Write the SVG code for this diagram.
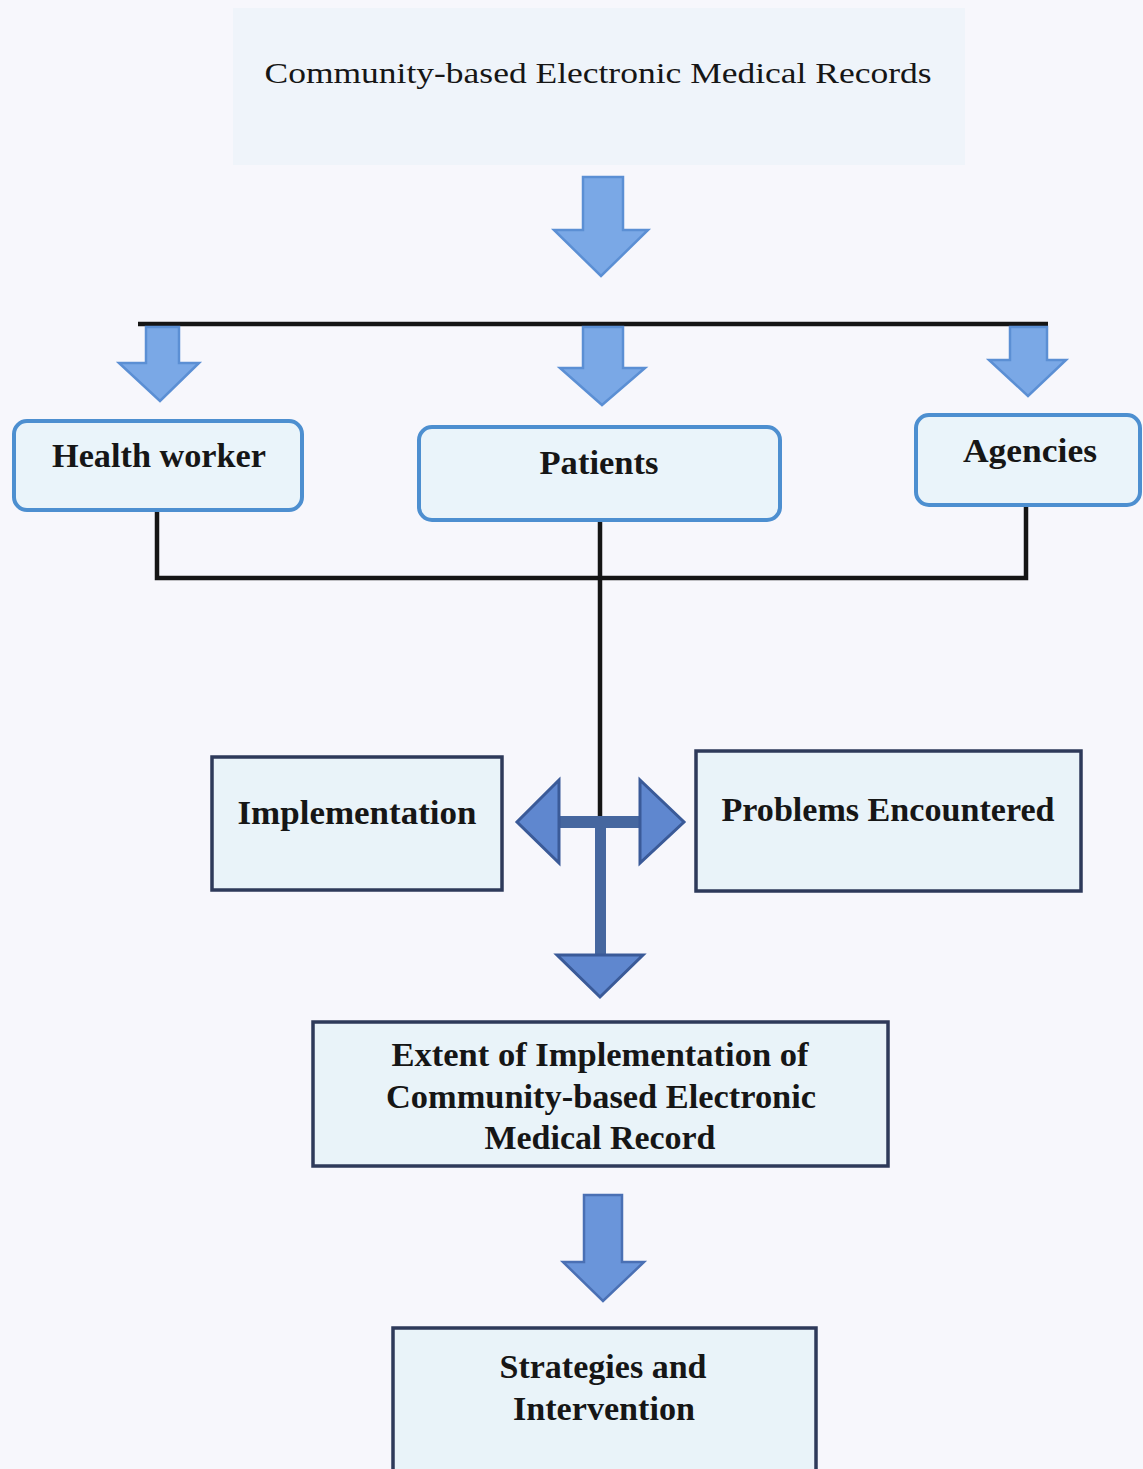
<svg xmlns="http://www.w3.org/2000/svg" width="1143" height="1469" viewBox="0 0 1143 1469">
  <defs>
    <style>
      .bg { fill: #f7f7fc; }
      .title-bg { fill: #eff4fa; }
      .rbox { fill: #eaf4fa; stroke: #4d8fd0; stroke-width: 4; }
      .sbox { fill: #e9f3f9; stroke: #2e3a5a; stroke-width: 3.5; }
      .lbl { font-family: "Liberation Serif", "DejaVu Serif", serif; font-weight: bold; font-size: 33px; fill: #161616; text-anchor: middle; }
      .ttl { font-family: "Liberation Serif", "DejaVu Serif", serif; font-size: 30px; fill: #161616; text-anchor: middle; }
      .line { stroke: #151515; stroke-width: 4.5; fill: none; }
      .arrow-light { fill: #7aa8e6; stroke: #5b8fd4; stroke-width: 2.5; stroke-linejoin: miter; }
      .arrow-mid { fill: #6a95da; stroke: #4a70b4; stroke-width: 2.5; }
      .arrow-dark { fill: #5f87cf; stroke: #3a5a98; stroke-width: 3; stroke-linejoin: miter; }
      .shaft-dark { fill: #46679f; }
    </style>
  </defs>

  <rect class="bg" x="0" y="0" width="1143" height="1469"/>

  <!-- Title -->
  <g id="title">
    <rect class="title-bg" x="233" y="8" width="732" height="157"/>
    <text class="ttl" x="598" y="83" textLength="667" lengthAdjust="spacingAndGlyphs">Community-based Electronic Medical Records</text>
  </g>

  <!-- Connectors -->
  <g id="connectors">
    <!-- title down arrow -->
    <path class="arrow-light" d="M583 177 H623 V230 H648 L601 276 L554 230 H583 Z"/>
    <!-- distribution bar -->
    <line class="line" x1="138" y1="324" x2="1048" y2="324"/>
    <!-- branch arrows -->
    <path class="arrow-light" d="M146 327 H179 V363 H199 L160 401 L119 363 H146 Z"/>
    <path class="arrow-light" d="M583 327 H623 V368 H645 L602 405 L560 368 H583 Z"/>
    <path class="arrow-light" d="M1010 327 H1047 V360 H1066 L1028 396 L989 360 H1010 Z"/>
    <!-- collecting lines -->
    <polyline class="line" points="157,510 157,578 1026,578 1026,506"/>
    <line class="line" x1="600" y1="520" x2="600" y2="818"/>
    <!-- split arrow -->
    <g>
      <rect class="shaft-dark" x="555" y="816" width="90" height="12"/>
      <rect class="shaft-dark" x="595" y="820" width="11" height="137"/>
      <path class="arrow-dark" d="M559 780 L517 822 L559 863 Z"/>
      <path class="arrow-dark" d="M640 780 L684 822 L640 863 Z"/>
      <path class="arrow-dark" d="M557 955 H643 L600 997 Z"/>
    </g>
    <!-- arrow to strategies -->
    <path class="arrow-mid" d="M584 1195 H622 V1262 H644 L603 1301 L563 1262 H584 Z"/>
  </g>

  <g id="health-worker">
    <rect class="rbox" x="14" y="421" width="288" height="89" rx="13"/>
    <text class="lbl" x="159" y="467" textLength="214" lengthAdjust="spacingAndGlyphs">Health worker</text>
  </g>

  <g id="patients">
    <rect class="rbox" x="419" y="427" width="361" height="93" rx="13"/>
    <text class="lbl" x="599" y="474" textLength="119" lengthAdjust="spacingAndGlyphs">Patients</text>
  </g>

  <g id="agencies">
    <rect class="rbox" x="916" y="415" width="224" height="90" rx="13"/>
    <text class="lbl" x="1030" y="462" textLength="134" lengthAdjust="spacingAndGlyphs">Agencies</text>
  </g>

  <g id="implementation">
    <rect class="sbox" x="212" y="757" width="290" height="133"/>
    <text class="lbl" x="357" y="824" textLength="239" lengthAdjust="spacingAndGlyphs">Implementation</text>
  </g>

  <g id="problems">
    <rect class="sbox" x="696" y="751" width="385" height="140"/>
    <text class="lbl" x="888" y="821" textLength="333" lengthAdjust="spacingAndGlyphs">Problems Encountered</text>
  </g>

  <g id="extent">
    <rect class="sbox" x="313" y="1022" width="575" height="144"/>
    <text class="lbl" x="600" y="1066" textLength="417" lengthAdjust="spacingAndGlyphs">Extent of Implementation of</text>
    <text class="lbl" x="601" y="1108" textLength="430" lengthAdjust="spacingAndGlyphs">Community-based Electronic</text>
    <text class="lbl" x="600" y="1149" textLength="231" lengthAdjust="spacingAndGlyphs">Medical Record</text>
  </g>

  <g id="strategies">
    <rect class="sbox" x="393" y="1328" width="423" height="160"/>
    <text class="lbl" x="603" y="1378" textLength="207" lengthAdjust="spacingAndGlyphs">Strategies and</text>
    <text class="lbl" x="604" y="1420" textLength="182" lengthAdjust="spacingAndGlyphs">Intervention</text>
  </g>
</svg>
